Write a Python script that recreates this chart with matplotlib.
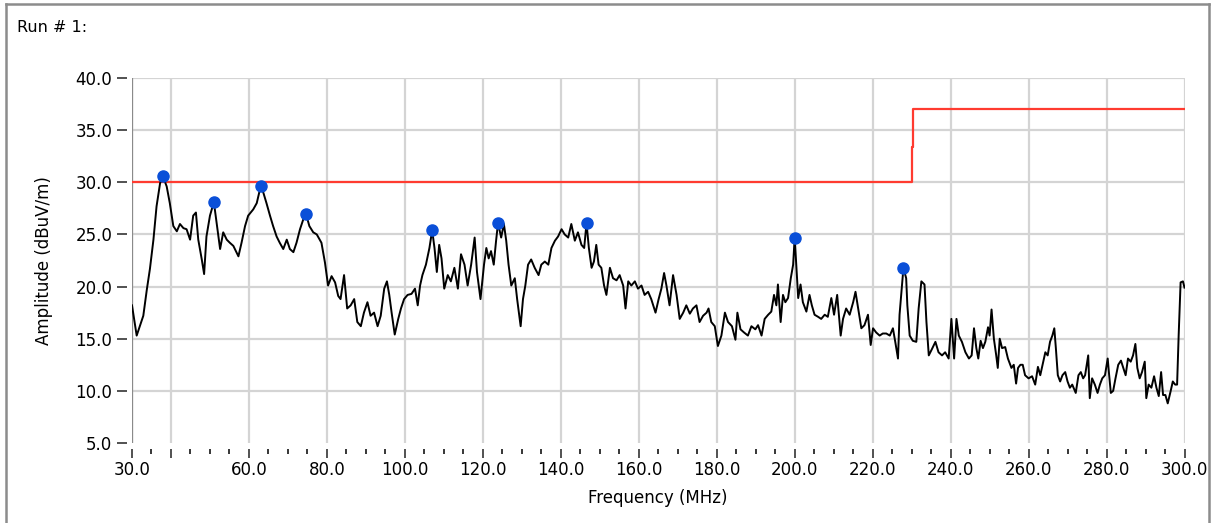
import matplotlib
matplotlib.use("Agg")
import matplotlib.pyplot as plt
from matplotlib.lines import Line2D

# measured trace (MHz, dBuV/m)
freq = [30.0, 31.2, 32.9, 33.8, 34.6, 35.5, 36.3, 37.2, 37.9, 38.9, 39.7, 40.6, 41.5, 42.3, 43.2, 44.0,
        44.9, 45.7, 46.4, 47.0, 47.9, 48.5, 49.1, 50.0, 51.0, 51.7, 52.6, 53.4, 54.3, 55.1, 56.0, 57.3,
        58.1, 59.0, 59.8, 61.1, 62.0, 63.0, 63.7, 64.5, 65.4, 66.2, 67.1, 67.9, 68.8, 69.7, 70.5, 71.4,
        72.2, 73.1, 73.9, 74.6, 75.5, 76.5, 77.4, 78.6, 79.5, 80.3, 81.2, 82.1, 82.9,
        83.5, 84.4, 85.2, 86.1, 87.0, 87.8, 88.7, 89.5, 90.4, 91.2, 92.1, 93.0, 93.8, 94.7, 95.4, 96.0,
        96.6, 97.4, 98.3, 99.0, 99.8, 100.7, 101.7, 102.6, 103.3, 103.9, 104.5, 105.4, 106.3, 107.0,
        107.6, 108.2, 108.8, 109.4, 110.1, 111.0, 111.8, 112.7, 113.6, 114.4, 115.3, 116.1, 117.0,
        117.9, 118.5, 119.4, 120.3, 120.9, 121.5, 122.1, 122.8, 123.4, 123.9, 124.7, 125.4, 126.0,
        126.6, 127.3, 128.2, 128.8, 129.7, 130.3, 130.9, 131.6, 132.4, 133.3, 134.3, 135.0,
        135.9, 136.8, 137.6, 138.5, 139.3, 140.2, 141.0, 141.9, 142.7, 143.6, 144.4, 145.3, 146.0,
        146.6, 147.2, 147.9, 148.5, 149.1, 149.7, 150.4, 151.1, 151.7, 152.6, 153.4, 154.3, 155.1,
        156.0, 156.6, 157.3, 158.1, 159.0, 159.8, 160.7, 161.5, 162.4, 163.2, 164.3, 165.1, 165.8,
        166.5, 167.1, 167.9, 168.8, 169.7, 170.5, 171.4, 172.2, 173.1, 173.9, 174.8, 175.6, 176.5,
        177.4, 177.9, 178.6, 179.5, 180.3, 181.2, 182.1, 182.9, 183.9, 184.8, 185.3, 186.1, 187.0,
        188.0, 188.9, 189.9,
        190.6, 191.5, 192.3, 193.2, 194.0, 194.7, 195.3, 195.7, 196.4, 197.0, 197.6, 198.3, 199.0,
        199.6, 200.0, 200.4, 200.9, 201.5, 202.1, 203.0, 203.8, 204.4, 205.1, 206.0, 206.8, 207.7,
        208.5, 209.4, 210.1, 210.9, 211.8, 212.4, 213.2, 214.1, 215.0, 215.6, 216.4, 217.1, 217.9,
        218.8, 219.5, 220.1, 220.9, 221.8, 222.6, 223.5, 224.4, 225.2, 225.8, 226.5, 226.9, 227.9,
        228.6, 228.9, 229.5, 230.3, 231.2, 231.8, 232.5, 233.3, 233.8, 234.4, 235.2, 236.1, 236.9,
        237.8, 238.6, 239.5, 240.2, 240.9, 241.5, 242.1, 242.9, 243.8,
        244.7, 245.4, 246.0, 246.6, 247.1, 247.7, 248.3, 248.9, 249.6, 250.0, 250.5, 251.1, 251.7,
        252.1, 252.6, 253.2, 254.0, 254.7, 255.6, 256.2, 256.8, 257.3, 257.9, 258.5, 259.1, 260.0,
        260.9, 261.7, 262.4, 263.0, 263.6, 264.3, 264.9, 265.5, 266.1, 266.6, 267.0, 267.5, 268.1,
        268.7, 269.4, 270.0, 270.6, 271.2, 272.1, 272.8, 273.4, 274.0, 274.5, 275.3, 275.7, 276.3,
        277.0, 277.7, 278.3, 278.9, 279.6, 280.3, 280.6, 281.1, 281.7, 282.3, 283.0, 283.7, 284.3,
        284.9, 285.5, 286.2, 286.8, 287.4, 287.9, 288.5, 289.1, 289.8, 290.2, 290.8, 291.5, 292.2,
        292.8, 293.4, 294.0, 294.5, 295.1, 295.7, 296.4, 297.0, 297.6, 298.1, 298.5, 299.0, 299.6, 300.0]
amp = [18.2, 15.3, 17.2, 19.7, 21.7, 24.5, 27.7, 29.9, 30.6, 29.6, 28.0, 25.8, 25.3, 26.0, 25.6, 25.5,
       24.5, 26.8, 27.1, 24.5, 22.6, 21.2, 24.8, 26.8, 28.1, 26.1, 23.6, 25.2, 24.5, 24.2, 23.9, 22.9,
       24.2, 25.8, 26.8, 27.4, 28.0, 29.6, 29.0, 28.0, 26.8, 25.8, 24.8, 24.2, 23.6, 24.5, 23.6, 23.3,
       24.2, 25.5, 26.4, 27.0, 25.8, 25.2, 25.0, 24.2, 22.3, 20.1, 21.0, 20.4, 19.1,
       18.8, 21.1, 17.9, 18.2, 18.8, 16.6, 16.2, 17.5, 18.5, 17.2, 17.5, 16.2, 17.2, 19.8, 20.5, 19.2,
       17.5, 15.4, 16.9, 17.9, 18.8, 19.2, 19.3, 19.8, 18.2, 20.1, 21.1, 22.1, 23.7, 25.4,
       23.7, 21.4, 24.0, 22.7, 19.8, 21.1, 20.5, 21.8, 19.8, 23.1, 22.1, 20.1, 22.1,
       24.7, 21.4, 18.8, 22.1, 23.7, 22.7, 23.4, 22.1, 24.4, 26.1, 24.7, 26.0, 24.4,
       22.1, 20.1, 20.8, 18.8, 16.2, 18.8, 20.1, 22.1, 22.6, 21.8, 21.1, 22.1,
       22.4, 22.1, 23.7, 24.4, 24.8, 25.5, 25.0, 24.7, 26.0, 24.4, 25.2, 24.0, 23.7,
       26.1, 23.7, 21.8, 22.4, 24.0, 22.1, 21.8, 20.1, 19.2, 21.8, 20.8, 20.6, 21.1,
       20.1, 17.9, 20.5, 20.1, 20.5, 19.8, 20.1, 19.2, 19.5, 18.8, 17.5, 18.8, 19.8,
       21.3, 20.1, 18.2, 21.1, 19.2, 16.9, 17.5, 18.2, 17.4, 17.9, 18.2, 16.6, 17.2,
       17.5, 17.9, 16.6, 16.2, 14.3, 15.3, 17.5, 16.6, 16.2, 14.9, 17.5, 15.9, 15.6,
       15.3, 16.2, 15.9,
       16.3, 15.3, 16.9, 17.3, 17.6, 19.2, 18.2, 20.2, 16.6, 19.2, 18.5, 18.9, 20.8,
       22.1, 24.7, 22.1, 18.9, 20.2, 18.5, 17.6, 19.2, 18.2, 17.3, 17.1, 16.9, 17.3,
       17.1, 18.9, 17.3, 19.2, 15.3, 16.9, 17.9, 17.3, 18.5, 19.5, 17.6, 16.0, 16.3,
       17.3, 14.4, 16.0, 15.6, 15.3, 15.5, 15.5, 15.3, 16.0, 14.7, 13.1, 17.3, 21.8,
       20.8, 18.2, 15.3, 14.8, 14.7, 17.9, 20.5, 20.2, 16.6, 13.4, 14.0, 14.7, 13.7,
       13.4, 13.7, 13.1, 16.9, 13.1, 16.9, 15.3, 14.7, 13.7,
       13.1, 13.4, 16.0, 14.1, 13.1, 14.8, 14.1, 14.7, 16.1, 15.3, 17.8, 15.0, 13.4,
       12.2, 15.0, 14.1, 14.2, 13.1, 12.2, 12.5, 10.7, 12.2, 12.5, 12.5, 11.5, 11.2,
       11.4, 10.6, 12.3, 11.5, 12.5, 13.7, 13.4, 14.7, 15.3, 16.0, 14.1, 11.5, 10.9,
       11.5, 11.8, 10.9, 10.3, 10.6, 9.8, 11.5, 11.8, 11.2, 11.5, 13.4, 9.3, 11.2,
       10.6, 9.8, 10.6, 11.2, 11.5, 13.1, 11.8, 9.8, 10.0, 11.2, 12.5, 12.9, 12.2,
       11.5, 13.1, 12.8, 13.4, 14.5, 12.2, 11.2, 11.8, 12.8, 9.3, 10.6, 10.3, 11.4,
       10.3, 9.5, 11.8, 9.6, 9.6, 8.8, 9.9, 10.9, 10.6, 10.6, 15.3, 20.4, 20.5, 19.9]

# limit line
limit_freq = [30.0, 230.0, 230.0, 230.4, 230.4, 300.0]
limit_amp = [30.0, 30.0, 33.4, 33.4, 37.0, 37.0]

# detected peaks
peak_freq = [37.9, 51.0, 63.0, 74.6, 107.0, 123.9, 146.6, 200.0, 227.9]
peak_amp = [30.6, 28.1, 29.6, 27.0, 25.4, 26.1, 26.1, 24.7, 21.8]

xticks = [30, 40, 60, 80, 100, 120, 140, 160, 180, 200, 220, 240, 260, 280, 300]
xlabels = ["30.0", ""] + ["%.1f" % v for v in xticks[2:]]
yticks = [5, 10, 15, 20, 25, 30, 35, 40]

fig = plt.figure(figsize=(12.14, 5.23), dpi=100)
ax = fig.add_axes([132 / 1214, 1 - 443 / 523, (1184.5 - 132) / 1214, 365 / 523])

ax.plot(limit_freq, limit_amp, color="#ff3b30", lw=1.6, zorder=3)
ax.plot(freq, amp, color="black", lw=1.4, zorder=4)
ax.plot(peak_freq, peak_amp, "o", color="#0a4fd8", ms=8, zorder=5)

ax.set_xlim(30, 300)
ax.set_ylim(5, 40)

for s in ax.spines.values():
    s.set_visible(False)
ax.spines["left"].set_position(("outward", 3.6))
ax.spines["bottom"].set_position(("outward", 4.3))
ax.axvline(30, color="#8a8a8a", lw=1.6, zorder=2)

ax.set_xticks(xticks)
ax.set_xticklabels(xlabels)
ax.set_xticks([v for v in range(35, 300, 5) if v not in xticks], minor=True)
ax.set_yticks(yticks)
ax.set_yticklabels(["%.1f" % v for v in yticks])

ax.tick_params(axis="both", which="major", labelsize=12, color="#222222")
ax.tick_params(axis="y", length=7.2, width=1.1, pad=3.5)
ax.tick_params(axis="x", which="major", length=6.5, width=1.1, pad=2)
ax.tick_params(axis="x", which="minor", length=3.6, width=1.1)

ax.grid(True, color="#d4d4d4", lw=1.6, zorder=0)
ax.yaxis.get_gridlines()[0].set_visible(False)
ax.set_axisbelow(True)

ax.set_xlabel("Frequency (MHz)", fontsize=12)
ax.set_ylabel("Amplitude (dBuV/m)", fontsize=12)
ax.xaxis.set_label_coords(0.5, -0.125)
ax.yaxis.set_label_coords(-0.075, 0.5)

fig.text(17 / 1214, 1 - 27 / 523, "Run # 1:", fontsize=11.5, va="center", ha="left")

# window frame
frame = dict(color="#8c8c8c", lw=1.8, transform=fig.transFigure)
fig.add_artist(Line2D([6 / 1214, 6 / 1214], [0, 1 - 3.5 / 523], **frame))
fig.add_artist(Line2D([6 / 1214, 1209 / 1214], [1 - 3.5 / 523, 1 - 3.5 / 523], **frame))
fig.add_artist(Line2D([1209 / 1214, 1209 / 1214], [0, 1 - 3.5 / 523], **frame))

fig.savefig("out.png", dpi=100)
